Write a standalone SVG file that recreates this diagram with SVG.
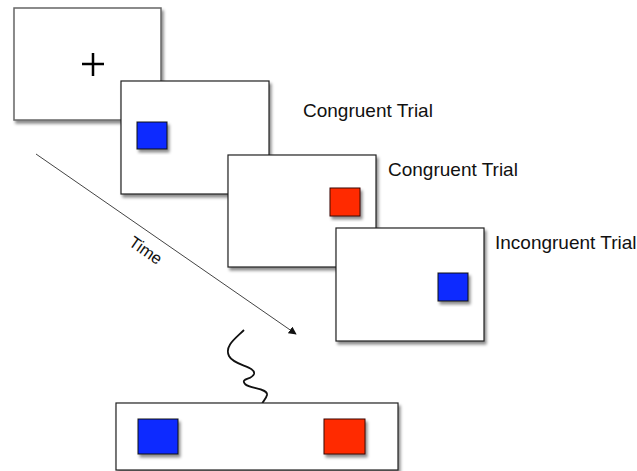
<svg xmlns="http://www.w3.org/2000/svg" width="637" height="471" viewBox="0 0 637 471">
<defs>
<filter id="sh" x="-10%" y="-10%" width="130%" height="130%">
<feDropShadow dx="2" dy="3" stdDeviation="1.8" flood-color="#000" flood-opacity="0.45"/>
</filter>
<marker id="ah" viewBox="0 0 10 10" refX="9" refY="5" markerWidth="8" markerHeight="8" orient="auto" markerUnits="userSpaceOnUse">
<path d="M0,0 L10,5 L0,10 z" fill="#111"/>
</marker>
<style>
.box{fill:#fff;stroke:#222;stroke-width:1.2;filter:url(#sh)}
.box0{fill:#fff;stroke:#666;stroke-width:1.5;filter:url(#sh)}
.blue{fill:#0a2cff;stroke:#111;stroke-width:1;filter:url(#sh)}
.red{fill:#ff2a00;stroke:#3a0a00;stroke-width:1;filter:url(#sh)}
.lbl{font-family:"Liberation Sans",Arial,sans-serif;font-size:19px;fill:#111}
</style>
</defs>
<g id="connectors">
<line x1="36" y1="154" x2="296" y2="334" stroke="#444" stroke-width="1" marker-end="url(#ah)"/>
<path d="M244,330 C236,338 224,346 229,356 C234,366 256,366 254,374 C252,380 240,378 245,384 C250,389 268,388 267,395 C266,399 263,401 262,404" fill="none" stroke="#111" stroke-width="1.8"/>
</g>
<g id="fixation">
<rect class="box0" x="14" y="8" width="147" height="112"/>
<path d="M82,64 H104 M93,53 V76" stroke="#000" stroke-width="2.5" fill="none"/>
</g>
<g id="trial1">
<rect class="box" x="121" y="81" width="148" height="113"/>
<rect class="blue" x="137" y="122" width="30" height="27"/>
</g>
<g id="trial2">
<rect class="box" x="228" y="155" width="148" height="112"/>
<rect class="red" x="330" y="188" width="30" height="28"/>
</g>
<g id="trial3">
<rect class="box" x="336" y="228" width="148" height="113"/>
<rect class="blue" x="438" y="273" width="30" height="28"/>
</g>
<g id="response">
<rect class="box" x="116" y="403" width="282" height="67"/>
<rect class="blue" x="138" y="419" width="40" height="35"/>
<rect class="red" x="324" y="419" width="41" height="35"/>
</g>
<g id="labels">
<text class="lbl" x="303" y="117">Congruent Trial</text>
<text class="lbl" x="388" y="176">Congruent Trial</text>
<text class="lbl" x="495" y="249">Incongruent Trial</text>
<text class="lbl" style="font-size:16.5px" text-anchor="middle" transform="translate(146,250) rotate(34.7)" y="6">Time</text>
</g>
</svg>
